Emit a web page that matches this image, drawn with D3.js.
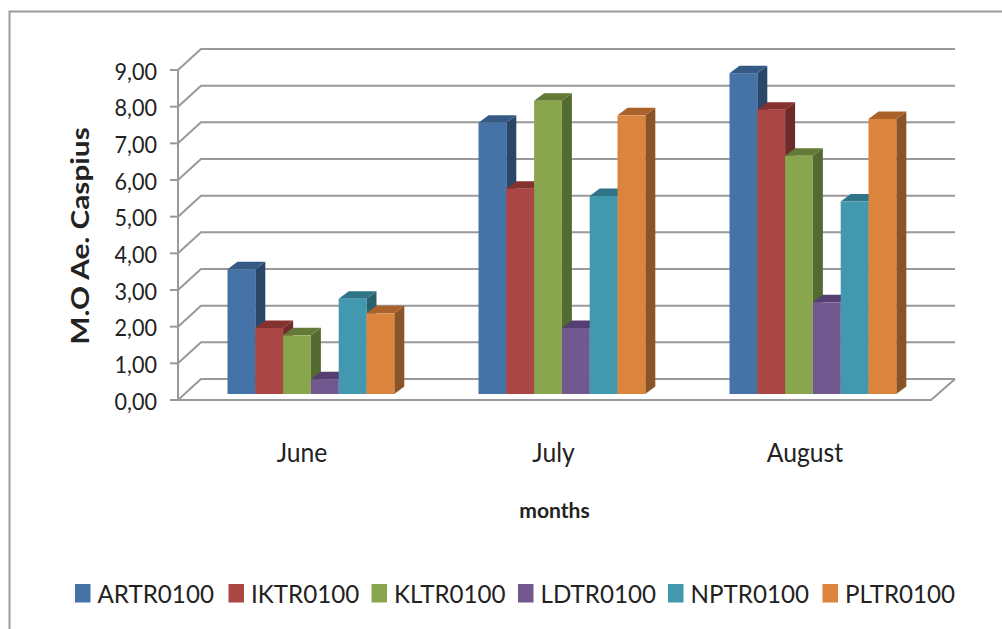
<!DOCTYPE html>
<html>
<head>
<meta charset="utf-8">
<script src="https://cdn.jsdelivr.net/npm/d3@7"></script>
<style>
html,body{margin:0;padding:0;background:#fff;overflow:hidden}
text{font-family:Lato,"Open Sans",sans-serif;fill:#222}
</style>
</head>
<body>
<svg id="chart" width="1002" height="629"></svg>
<script>
// Mean oviposition of Ae. caspius per trap site, June to August
const months = ["June", "July", "August"];
const seriesNames = ["ARTR0100", "IKTR0100", "KLTR0100", "LDTR0100", "NPTR0100", "PLTR0100"];
const june = [3.4, 1.8, 1.6, 0.4, 2.6, 2.2];
const july = [7.4, 5.6, 8.0, 1.8, 5.4, 7.6];
const august = [8.75, 7.75, 6.5, 2.5, 5.25, 7.5];
const tickValues = [0, 1, 2, 3, 4, 5, 6, 7, 8, 9];
const frontColors = ["#4572a7", "#aa4643", "#89a54e", "#71588f", "#4198af", "#db843d"];
const topColors = ["#355a85", "#85322f", "#637a37", "#553f72", "#2f7587", "#ab622a"];
const sideColors = ["#2a4668", "#6f2b29", "#536a30", "#453360", "#27626f", "#8a5426"];
const monthValues = [june, july, august];

const svg = d3.select("#chart");
const y = d3.scaleLinear().domain([0, 9]).range([400, 70]);
const x0 = d3.scaleBand().domain(months).range([178, 931]);
const barWidth = 27.8;
const x1 = d3.scaleBand().domain(seriesNames).range([0, barWidth * 6]);

// oblique projection of the back wall and of each bar's depth
const wallDx = 23, wallDy = 21;
const barDx = 10, barDy = 7.5, barLift = 6;
const gridColor = "#999999";

// outer chart frame
svg.append("path")
  .attr("d", "M9.5,629V11.5H1002")
  .attr("fill", "none").attr("stroke", "#9c9c9c").attr("stroke-width", 2);

// back wall gridlines with their oblique return to the axis
const grid = svg.append("g").attr("fill", "none").attr("stroke", gridColor).attr("stroke-width", 2);
tickValues.forEach(t => {
  const yy = y(t);
  grid.append("path").attr("d",
    `M${x0.range()[0]},${yy}L${x0.range()[0] + wallDx},${yy - wallDy}H${x0.range()[1] + wallDx + 1}`);
});
// floor outline and the front axis
grid.append("path").attr("d",
  `M${x0.range()[0]},${y(0)}H${x0.range()[1]}L${x0.range()[1] + wallDx + 1},${y(0) - wallDy}`);
grid.append("line").attr("x1", x0.range()[0]).attr("x2", x0.range()[0]).attr("y1", y(9)).attr("y2", y(0));
tickValues.forEach(t => {
  grid.append("line").attr("x1", x0.range()[0] - 8).attr("x2", x0.range()[0]).attr("y1", y(t)).attr("y2", y(t));
});

// value axis labels use a comma as decimal separator, set slightly condensed
const fmt = v => d3.format(".2f")(v).replace(".", ",");
svg.append("g").selectAll("text").data(tickValues).join("text")
  .attr("transform", d => `translate(157,${y(d) + 9.5}) scale(0.9,1)`)
  .attr("text-anchor", "end").attr("font-size", 24)
  .text(fmt);

// bars, one group per month
months.forEach((m, mi) => {
  const g = svg.append("g");
  const left = x0(m) + 49.5;
  monthValues[mi].forEach((v, i) => {
    const name = seriesNames[i];
    const xa = left + x1(name), xb = xa + barWidth;
    const top = y(v) - barLift, base = y(0) - barLift;
    g.append("path").attr("fill", sideColors[i])
      .attr("d", `M${xb},${top}L${xb + barDx},${top - barDy}V${base - barDy}L${xb},${base}Z`);
    g.append("path").attr("fill", topColors[i])
      .attr("d", `M${xa},${top}L${xa + barDx},${top - barDy}H${xb + barDx}L${xb},${top}Z`);
    g.append("rect").attr("fill", frontColors[i])
      .attr("x", xa).attr("y", top).attr("width", barWidth).attr("height", base - top);
  });
  svg.append("text").attr("transform", `translate(${302 + 251.5 * mi},462) scale(0.95,1)`)
    .attr("text-anchor", "middle").attr("font-size", 26).text(m);
});

// axis titles
svg.append("text").attr("transform", "translate(89,236) rotate(-90) scale(1.19,1)")
  .attr("text-anchor", "middle").attr("font-size", 25).attr("font-weight", 700)
  .text("M.O Ae. Caspius");
svg.append("text").attr("transform", "translate(554.5,518) scale(1.03,1)")
  .attr("text-anchor", "middle").attr("font-size", 20.5).attr("font-weight", 700).text("months");

// legend along the bottom
const legendX = [75, 228.5, 371.5, 518, 668, 822.5];
const legend = svg.append("g");
seriesNames.forEach((name, i) => {
  legend.append("rect").attr("x", legendX[i]).attr("y", 584)
    .attr("width", 15.5).attr("height", 18.5).attr("fill", frontColors[i]);
  legend.append("text").attr("transform", `translate(${legendX[i] + 22.5},603) scale(0.93,1)`)
    .attr("font-size", 26).text(name);
});
</script>
</body>
</html>
